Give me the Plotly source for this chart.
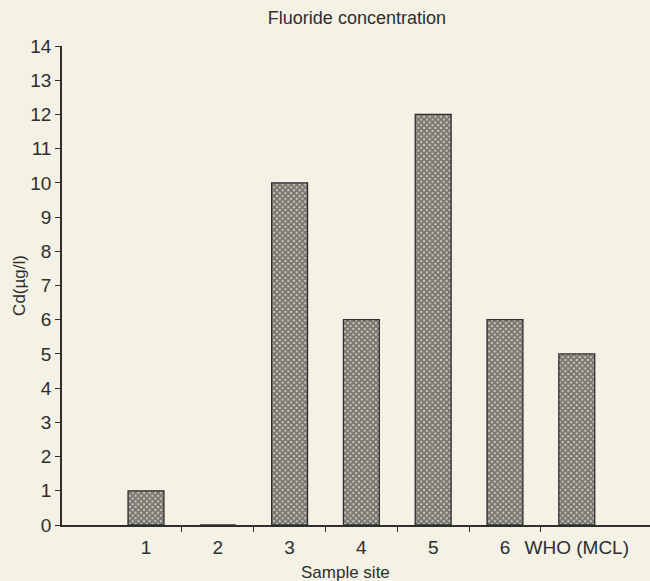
import plotly.graph_objects as go

categories = ["1", "2", "3", "4", "5", "6", "WHO (MCL)"]
cd_values = [1, 0, 10, 6, 12, 6, 5]
y_ticks = list(range(0, 15))

bg = "#f4f1e5"
ink = "#2e2e2e"
font_family = "Liberation Sans, Arial, sans-serif"

x_pos = list(range(len(categories)))

fig = go.Figure()
fig.add_trace(go.Bar(
    x=x_pos, y=cd_values, width=0.5,
    marker=dict(
        color="#cfccc0",
        line=dict(color=ink, width=1.3),
        pattern=dict(shape="x", size=4, solidity=0.75, fgcolor="#1e1e1e", bgcolor="#d2cfc3"),
    ),
    showlegend=False,
))
fig.add_trace(go.Scatter(x=x_pos, y=cd_values, xaxis="x2", mode="markers",
                         marker=dict(opacity=0), showlegend=False, hoverinfo="skip"))
fig.add_trace(go.Scatter(x=x_pos, y=cd_values, yaxis="y2", mode="markers",
                         marker=dict(opacity=0), showlegend=False, hoverinfo="skip"))

xr = [-1.17, 7.02]
fig.update_layout(
    width=650, height=581,
    paper_bgcolor=bg, plot_bgcolor=bg,
    margin=dict(l=62, r=0, t=46, b=56),
    font=dict(family=font_family, color=ink, size=18),
    title=dict(text="Fluoride concentration", x=326/650, xanchor="center", xref="paper",
               y=1 - 18/581, yanchor="middle", font=dict(size=18, color=ink)),
    xaxis=dict(
        range=xr, tickmode="array",
        tickvals=[i + 0.5 for i in range(6)], ticktext=[""] * 6,
        ticks="outside", ticklen=5, tickcolor=ink, tickwidth=1,
        showline=True, linecolor=ink, linewidth=1.5,
        showgrid=False, zeroline=False,
    ),
    xaxis2=dict(
        overlaying="x", range=xr, tickmode="array",
        tickvals=x_pos, ticktext=categories, side="bottom",
        ticks="", showline=False, showgrid=False, zeroline=False,
        ticklabelstandoff=9,
        tickfont=dict(size=19, color=ink),
    ),
    yaxis=dict(
        range=[0, 14], tickmode="array", tickvals=y_ticks,
        ticks="outside", ticklen=5, tickcolor=ink, tickwidth=1,
        showline=True, linecolor=ink, linewidth=1.5,
        showgrid=False, zeroline=False,
        tickfont=dict(size=19, color=ink),
        title=dict(text="Cd(µg/l)", font=dict(size=17, color=ink), standoff=0),
    ),
    yaxis2=dict(
        overlaying="y", range=[0, 14], tickmode="array", tickvals=[14],
        ticks="inside", ticklen=8, tickcolor=ink, tickwidth=1,
        showticklabels=False, showgrid=False, zeroline=False, showline=False,
        side="left",
    ),
    annotations=[dict(text="Sample site", x=(345 - 62) / 588, xref="paper",
                      y=-(572 - 525) / 479, yref="paper", showarrow=False,
                      xanchor="center", yanchor="middle", font=dict(size=17, color=ink))],
)

fig.write_html("out.html", config={"displayModeBar": False},
               post_script="document.body.style.margin='0';document.body.style.overflow='hidden';")
